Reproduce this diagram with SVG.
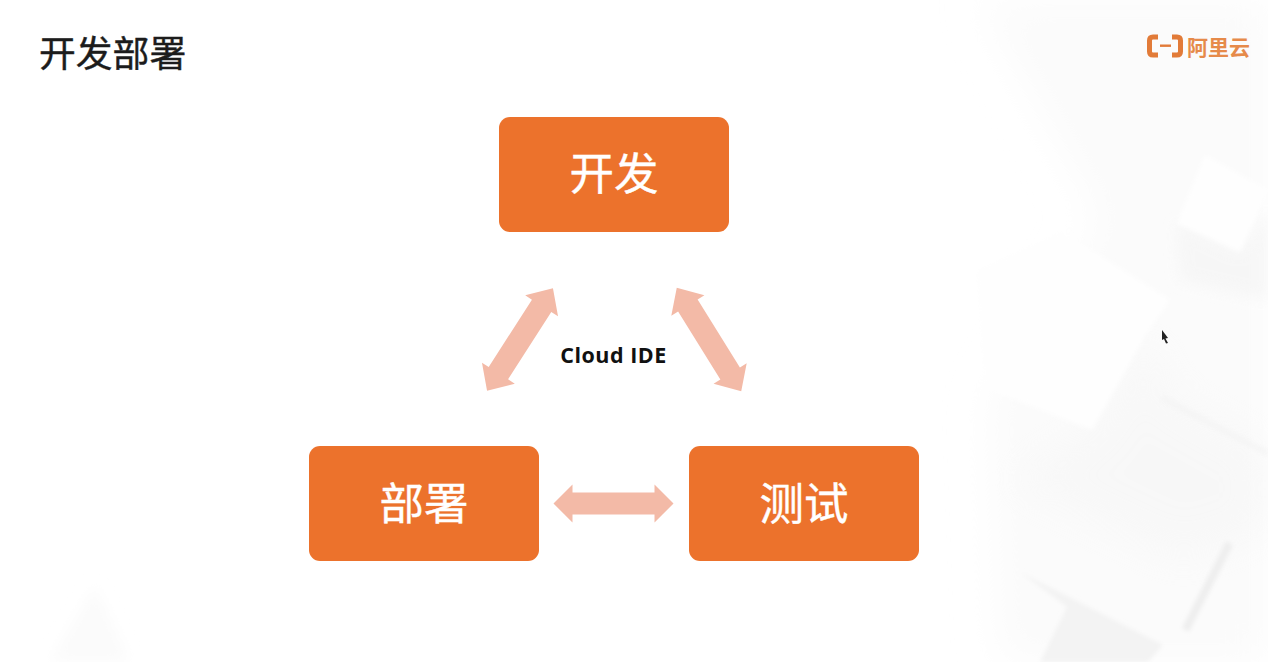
<svg xmlns="http://www.w3.org/2000/svg" width="1268" height="662" viewBox="0 0 1268 662">
  <style>
    .node { fill: #EC722C; }
    .link { fill: #F3BAA7; }
    .cjk { font-family: "Noto Sans CJK SC", "Noto Sans", sans-serif; }
    .label { fill: #FFFFFF; stroke: #FFFFFF; stroke-width: 0.400px; font-size: 44.500px; text-anchor: middle; }
    .shade { fill: #F3F3F3; }
    .panel { fill: #FEFEFE; }
    .mark { fill: none; stroke: #E27B38; stroke-width: 5px; }
  </style>
  <defs>
    <filter id="wide" x="-30%" y="-30%" width="160%" height="160%"><feGaussianBlur stdDeviation="20"/></filter>
    <filter id="mid" x="-15%" y="-15%" width="130%" height="130%"><feGaussianBlur stdDeviation="7"/></filter>
    <filter id="edge" x="-5%" y="-5%" width="110%" height="110%"><feGaussianBlur stdDeviation="2"/></filter>
    <polygon id="two-way" points="-61,0 -40,-19.500 -40,-11.500 40,-11.500 40,-19.500 61,0 40,19.500 40,11.500 -40,11.500 -40,19.500"/>
    <polygon id="two-way-flat" points="-60,0 -41,-19 -41,-11 41,-11 41,-19 60,0 41,19 41,11 -41,11 -41,19"/>
  </defs>

  <!-- slide background: pale folded panels, darker toward the right edge -->
  <rect width="1268" height="662" fill="#FFFFFF"/>
  <g id="background">
    <polygon points="980,0 1268,0 1268,662 1000,662 990,400 1100,220" fill="#FBFBFB" filter="url(#wide)"/>
    <polygon points="50,662 95,585 130,662" fill="#FBFBFB" filter="url(#mid)"/>
    <polygon class="shade" opacity="0.4" points="1092,430 1147,333 1170,395 1268,450 1268,530 1180,560 1010,480" filter="url(#wide)"/>
    <polygon class="panel" points="975,270 1060,230 1170,300 1147,333 1092,430 983,387" filter="url(#edge)"/>
    <polygon class="shade" opacity="0.6" points="1163,395 1268,450 1268,457 1160,401" filter="url(#edge)"/>
    <polygon class="shade" opacity="0.55" points="1177,223 1240,252 1268,210 1268,300 1180,280" filter="url(#mid)"/>
    <polygon class="panel" points="1205,155 1268,190 1240,252 1177,223" filter="url(#edge)"/>
    <polygon points="1020,572 1163,645 1148,662 1040,662 1067,607" fill="#F3F3F3" filter="url(#edge)"/>
    <polygon points="1226,541 1233,545 1189,632 1182,628" fill="#EEEEEE" filter="url(#edge)"/>
  </g>

  <!-- pointer -->
  <polygon points="1162,330 1168,338 1165.500,338.500 1168,343 1166,343.500 1164,339 1162,340" fill="#222222"/>

  <!-- heading -->
  <text id="title" class="cjk" x="39" y="67" font-size="36.800" stroke="#1C1C1C" stroke-width="0.400" fill="#1C1C1C">开发部署</text>

  <!-- brand mark -->
  <g id="logo">
    <path class="mark" d="M1158,37 H1153 Q1149.500,37 1149.500,40.500 V51.500 Q1149.500,55 1153,55 H1158"/>
    <path class="mark" d="M1172,37 H1177 Q1180.500,37 1180.500,40.500 V51.500 Q1180.500,55 1177,55 H1172"/>
    <rect x="1160" y="44.500" width="11" height="2.400" fill="#E27B38"/>
    <text class="cjk" x="1187" y="54.500" font-size="21" font-weight="700" fill="#E68A4A">阿里云</text>
  </g>

  <!-- two-way connectors -->
  <g id="connectors">
    <use href="#two-way" class="link" transform="translate(520 339.500) rotate(-57.300)"/>
    <use href="#two-way" class="link" transform="translate(709 339.500) rotate(58.100)"/>
    <use href="#two-way-flat" class="link" transform="translate(613.500 503.500)"/>
  </g>

  <text id="centre-label" x="613.500" y="362.500" font-family="Open Sans, sans-serif" font-weight="700" font-size="21.500" letter-spacing="0.500" fill="#111111" text-anchor="middle">Cloud IDE</text>

  <g id="node-dev">
    <rect class="node" x="499" y="117" width="230" height="115" rx="11"/>
    <text class="cjk label" x="614" y="190">开发</text>
  </g>
  <g id="node-deploy">
    <rect class="node" x="309" y="446" width="230" height="115" rx="11"/>
    <text class="cjk label" x="424" y="520">部署</text>
  </g>
  <g id="node-test">
    <rect class="node" x="689" y="446" width="230" height="115" rx="11"/>
    <text class="cjk label" x="804" y="520">测试</text>
  </g>
</svg>
